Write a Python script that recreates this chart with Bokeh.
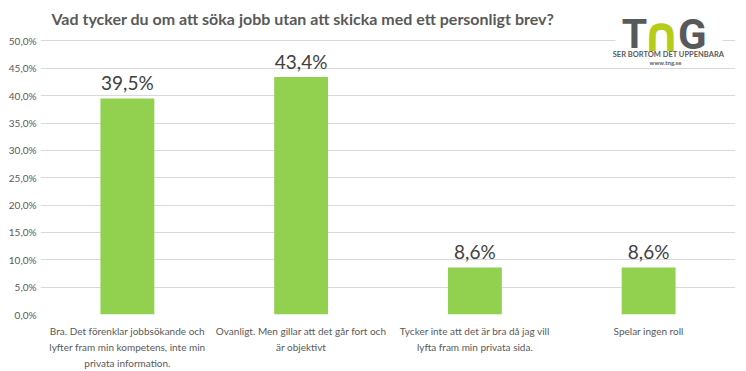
from bokeh.plotting import figure
from bokeh.models import (Range1d, FixedTicker, LabelSet, ColumnDataSource, Label,
                          BoxAnnotation, LinearAxis)
from bokeh.core.properties import value
from bokeh.embed import file_html
from bokeh.resources import INLINE

# ---- data ----
categories = [
    "Bra. Det förenklar jobbsökande och\nlyfter fram min kompetens, inte min\nprivata information.",
    "Ovanligt. Men gillar att det går fort och\när objektivt",
    "Tycker inte att det är bra då jag vill\nlyfta fram min privata sida.",
    "Spelar ingen roll",
]
values = [0.395, 0.434, 0.086, 0.086]
y_ticks = [0.0, 0.05, 0.10, 0.15, 0.20, 0.25, 0.30, 0.35, 0.40, 0.45, 0.50]
y_tick_labels = ["0,0%", "5,0%", "10,0%", "15,0%", "20,0%", "25,0%", "30,0%",
                 "35,0%", "40,0%", "45,0%", "50,0%"]
title_text = "Vad tycker du om att söka jobb utan att skicka med ett personligt brev?"

TEXT = "#595959"
GRID = "#d9d9d9"
FONT = "Lato"

x_pos = [i + 0.5 for i in range(len(categories))]
value_labels = [f"{v*100:.1f}%".replace(".", ",") for v in values]
src = ColumnDataSource(dict(x=x_pos, top=values, lab=value_labels))

p = figure(width=746, height=371, output_backend="svg", toolbar_location=None,
           x_range=Range1d(0, 4), y_range=Range1d(0, 0.574),
           min_border_left=40, min_border_right=11, min_border_top=0,
           min_border_bottom=53)
p.outline_line_color = None
p.background_fill_color = "white"

p.vbar(x="x", top="top", width=0.31, source=src, color="#92d050", line_color=None)

labels = LabelSet(x="x", y="top", text="lab", source=src, text_align="center",
                  text_baseline="bottom", y_offset=4, text_font=value(FONT),
                  text_font_size=value("19px"), text_color=value("#404040"))
p.add_layout(labels)

# title (top-left)
p.add_layout(Label(x=0.063, y=0.5415, text=title_text, text_align="left",
                   text_baseline="middle", text_font=FONT, text_font_style="bold",
                   text_font_size="16px", text_color=TEXT))

# y axis
p.yaxis.ticker = FixedTicker(ticks=y_ticks)
p.yaxis.major_label_overrides = {t: l for t, l in zip(y_ticks, y_tick_labels)}
p.yaxis.axis_line_color = None
p.yaxis.major_tick_line_color = None
p.yaxis.minor_tick_line_color = None
p.yaxis.major_tick_out = 0
p.yaxis.major_tick_in = 0
p.yaxis.major_label_text_font = FONT
p.yaxis.major_label_text_font_size = "10px"
p.yaxis.major_label_text_color = TEXT
p.yaxis.major_label_standoff = 4

# x axis: one axis per text line so each line is centred under its bar
cat_lines = [c.split("\n") for c in categories]
n_lines = max(len(l) for l in cat_lines)


def style_x(ax, line_idx, standoff):
    ax.ticker = FixedTicker(ticks=x_pos)
    ax.major_label_overrides = {
        x: (l[line_idx] if line_idx < len(l) else "") for x, l in zip(x_pos, cat_lines)}
    ax.axis_line_color = None
    ax.major_tick_line_color = None
    ax.minor_tick_line_color = None
    ax.major_tick_out = 0
    ax.major_tick_in = 0
    ax.minor_tick_out = 0
    ax.major_label_text_font = FONT
    ax.major_label_text_font_size = "10px"
    ax.major_label_text_color = TEXT
    ax.major_label_standoff = standoff


style_x(p.xaxis[0], 0, 10)
for i in range(1, n_lines):
    ax = LinearAxis()
    style_x(ax, i, 1)
    p.add_layout(ax, "below")

p.xgrid.grid_line_color = None
p.ygrid.grid_line_color = GRID

# logo
p.add_layout(BoxAnnotation(left=3.309, right=3.925, bottom=0.487, top=0.509,
                           fill_color="white", fill_alpha=1, line_color=None))
p.add_layout(Label(x=3.419, y=0.5126, text="T", text_align="center", text_baseline="alphabetic",
                   text_font="Roboto", text_font_style="bold", text_font_size="41px",
                   text_color="#58595b"))
p.add_layout(Label(x=3.573, y=0.5126, text="∩", text_align="center", text_baseline="alphabetic",
                   text_font="DejaVu Sans", text_font_style="bold", text_font_size="48px",
                   text_color="#b5cc18"))
p.add_layout(Label(x=3.752, y=0.5126, text="G", text_align="center", text_baseline="alphabetic",
                   text_font="Roboto", text_font_style="bold", text_font_size="42px",
                   text_color="#58595b"))
p.add_layout(Label(x=3.614, y=0.4747, text="SER BORTOM DET UPPENBARA", text_align="center",
                   text_baseline="middle", text_font=FONT, text_font_style="bold",
                   text_font_size="7.5px", text_color=TEXT))
p.add_layout(Label(x=3.597, y=0.460, text="www.tng.se", text_align="center",
                   text_baseline="middle", text_font=FONT, text_font_style="bold",
                   text_font_size="6px", text_color=TEXT))

open("out.html", "w").write(file_html(p, INLINE))
